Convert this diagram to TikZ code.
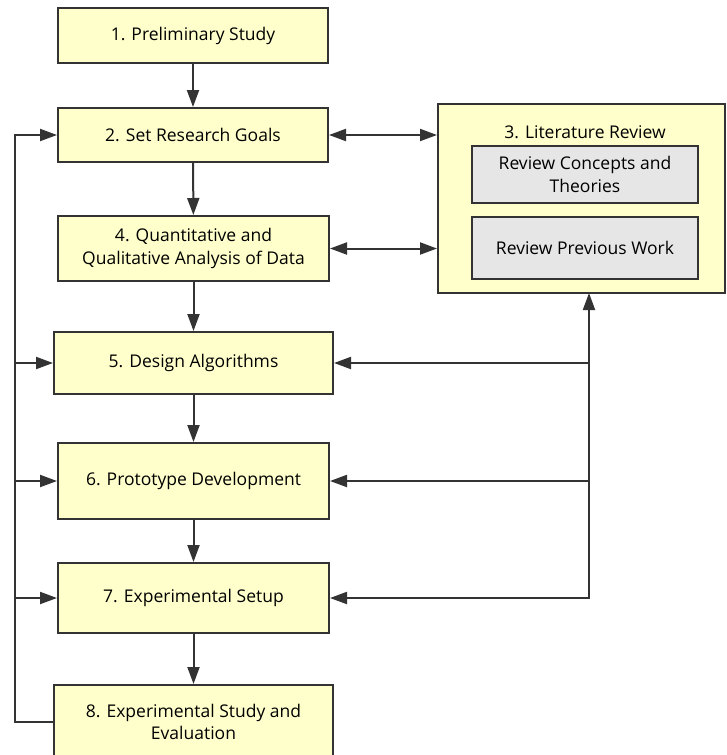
\documentclass[tikz,border=0pt]{standalone}
\usepackage{fontspec}
\setmainfont{Open Sans}
\usetikzlibrary{arrows.meta,calc}
\definecolor{bd}{HTML}{333333}
\definecolor{yel}{HTML}{FFFFCC}
\definecolor{gry}{HTML}{E6E6E6}
\begin{document}
\begin{tikzpicture}[x=1pt,y=-1pt,
  box/.style={draw=bd,fill=yel,line width=2pt,rectangle,inner sep=0pt,align=center,font=\fontsize{17.5}{22.5}\selectfont,text=black},
  inbox/.style={draw=bd,fill=gry,line width=2pt,rectangle,inner sep=0pt,align=center,font=\fontsize{17.5}{22.5}\selectfont,text=black},
  conn/.style={draw=bd,line width=2pt},
  arr/.style={conn,-{Triangle[length=17pt,width=12pt]}},
  arrb/.style={conn,{Triangle[length=17pt,width=12pt]}-{Triangle[length=17pt,width=12pt]}}]
\useasboundingbox (0,0) rectangle (726,755);
\begin{scope}
\clip (0,0) rectangle (726,755);
\node[box,minimum width=270,minimum height=55] (b1) at (193,35.5) {1. Preliminary Study};
\node[box,minimum width=270,minimum height=54] (b2) at (193,135) {2. Set Research Goals};
\node[box,minimum width=271,minimum height=65] (b4) at (193.5,248.5) {4. Quantitative and\\Qualitative Analysis of Data};
\node[box,minimum width=279,minimum height=62] (b5) at (193.5,363) {5. Design Algorithms};
\node[box,minimum width=271,minimum height=76] (b6) at (193.5,481) {6. Prototype Development};
\node[box,minimum width=271,minimum height=70] (b7) at (193.5,598) {7. Experimental Setup};
\node[box,minimum width=279,minimum height=74] (b8) at (193.5,722) {8. Experimental Study and\\Evaluation};
\node[box,minimum width=287,minimum height=189] (b3) at (581.5,198.5) {};
\node[font=\fontsize{17.5}{22.5}\selectfont,text=black,inner sep=0pt] (t3) at (585,132) {3. Literature Review};
\node[inbox,minimum width=226,minimum height=57] (c1) at (585,174.5) {Review Concepts and\\Theories};
\node[inbox,minimum width=226,minimum height=62] (c2) at (585,248) {Review Previous Work};
\end{scope}
\coordinate (rx) at (589,293);
\coordinate (lx) at (15,135);
\draw[arr] (b1) -- (b2);
\draw[arr] (b2) -- (b4);
\draw[arr] (b4) -- (b5);
\draw[arr] (b5) -- (b6);
\draw[arr] (b6) -- (b7);
\draw[arr] (b7) -- (b8);
\draw[arrb] (b2.east) -- (b2.east -| b3.west);
\draw[arrb] (b4.east) -- (b4.east -| b3.west);
\draw[arrb] (b7.east) -| (rx);
\draw[arr] (b5.east -| rx) -- (b5.east);
\draw[arr] (b6.east -| rx) -- (b6.east);
\draw[arr] (b8.west) -- (b8.west -| lx) -- (lx |- b2.west) -- (b2.west);
\draw[arr] (b5.west -| lx) -- (b5.west);
\draw[arr] (b6.west -| lx) -- (b6.west);
\draw[arr] (b7.west -| lx) -- (b7.west);
\end{tikzpicture}
\end{document}
